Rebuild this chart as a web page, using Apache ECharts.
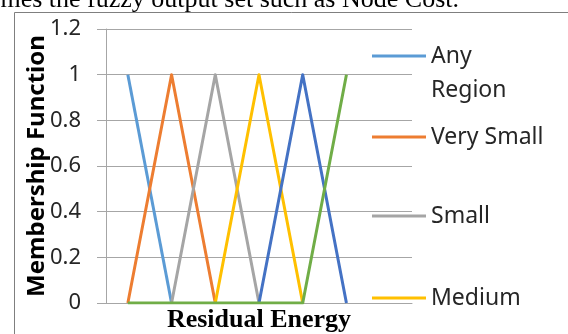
<!DOCTYPE html>
<html>
<head>
<meta charset="utf-8">
<script src="https://cdn.jsdelivr.net/npm/echarts@6/dist/echarts.min.js"></script>
<style>
  html, body { margin: 0; padding: 0; background: #fff; }
  #chart { width: 568px; height: 334px; }
</style>
</head>
<body>
<div id="chart"></div>
<script>
// Residual-energy membership functions: one triangle per fuzzy set.
const categories = ['1', '2', '3', '4', '5', '6', '7'];
const yTicks = [0, 0.2, 0.4, 0.6, 0.8, 1, 1.2];

const anyRegion = [1, 0, null, null, null, null, null];
const verySmall = [0, 1, 0, null, null, null, null];
const small     = [null, 0, 1, 0, null, null, null];
const medium    = [null, null, 0, 1, 0, null, null];
const large     = [null, null, null, 0, 1, 0, null];
const veryLarge = [0, 0, 0, 0, 0, 1, null];

const seriesNames = ['Any Region', 'Very Small', 'Small', 'Medium', 'Large', 'Very Large'];
const seriesValues = [anyRegion, verySmall, small, medium, large, veryLarge];
const legendNames = ['Any Region', 'Very Small', 'Small', 'Medium'];

// Styling / layout
const colors = ['#5B9BD5', '#ED7D31', '#A5A5A5', '#FFC000', '#4472C4', '#70AD47'];
const gridColor = '#a6a6a6';
const labelFont = 'Noto Sans';
const legendLineY = [54, 135, 214, 296];

const chart = echarts.init(document.getElementById('chart'), null, { renderer: 'canvas' });

// One legend block per entry; the two-line entry keeps its key beside the first line.
const legends = legendNames.map((name, i) => {
  const twoLine = name === 'Any Region';
  return {
    data: [name],
    orient: 'vertical',
    left: 372,
    top: twoLine ? legendLineY[i] - 49 : legendLineY[i] - 15,
    padding: 0,
    icon: 'rect',
    itemWidth: 54,
    itemHeight: 3,
    selectedMode: false,
    formatter: twoLine ? '\nAny\nRegion' : '{name}',
    textStyle: {
      fontFamily: labelFont,
      fontSize: 23,
      color: '#262626',
      lineHeight: 34
    }
  };
});

chart.setOption({
  animation: false,
  backgroundColor: '#fff',
  color: colors,
  grid: { left: 106, right: 156, top: 29, bottom: 31, containLabel: false, outerBoundsMode: 'none' },
  legend: legends,
  xAxis: {
    type: 'category',
    data: categories,
    boundaryGap: true,
    axisLine: { show: true, lineStyle: { color: gridColor, width: 1 } },
    axisTick: { show: false },
    axisLabel: { show: false },
    splitLine: { show: false },
    name: 'Residual Energy',
    nameLocation: 'middle',
    nameGap: 4,
    nameMoveOverlap: false,
    nameTextStyle: { fontFamily: 'Liberation Serif', fontWeight: 'bold', fontSize: 26, color: '#000' }
  },
  yAxis: {
    type: 'value',
    min: yTicks[0],
    max: yTicks[yTicks.length - 1],
    interval: 0.2,
    axisLine: { show: true, lineStyle: { color: gridColor, width: 1 } },
    axisTick: { show: true, length: 9, lineStyle: { color: gridColor } },
    splitLine: { show: true, lineStyle: { color: gridColor, width: 1 } },
    axisLabel: {
      margin: 25,
      fontFamily: labelFont,
      fontSize: 22,
      color: '#262626',
      formatter: v => String(Math.round(v * 10) / 10)
    },
    name: 'Membership Function',
    nameLocation: 'middle',
    nameGap: 57,
    nameMoveOverlap: false,
    nameTextStyle: { fontFamily: labelFont, fontWeight: 'bold', fontSize: 24, color: '#000' }
  },
  graphic: [
    {
      type: 'rect',
      z: -1,
      silent: true,
      shape: { x: 14.5, y: 12.5, width: 700, height: 500 },
      style: { fill: 'none', stroke: '#7f7f7f', lineWidth: 1 }
    },
    {
      type: 'text',
      x: -14,
      y: 13,
      silent: true,
      style: {
        text: 'times the fuzzy output set such as Node Cost.',
        fontFamily: 'Liberation Serif',
        fontSize: 26,
        fill: '#000',
        verticalAlign: 'bottom'
      }
    }
  ],
  series: seriesNames.map((name, i) => ({
    name,
    type: 'line',
    data: seriesValues[i],
    symbol: 'none',
    connectNulls: false,
    lineStyle: { width: 3, color: colors[i], join: 'round' },
    itemStyle: { color: colors[i] },
    emphasis: { disabled: true }
  }))
});
</script>
</body>
</html>
